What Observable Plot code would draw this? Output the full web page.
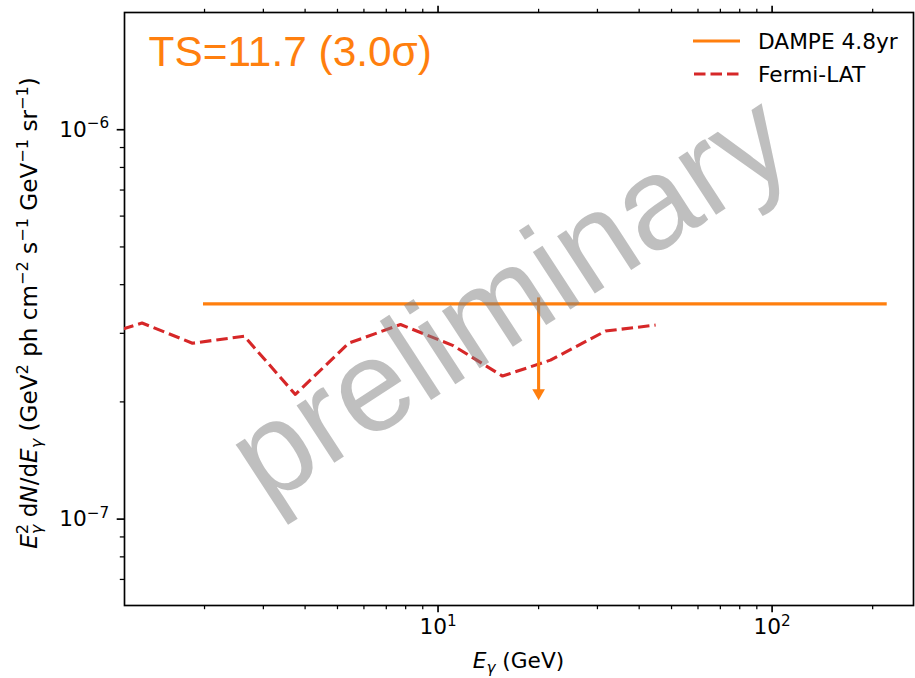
<!DOCTYPE html>
<html>
<head>
<meta charset="utf-8">
<script src="https://cdn.jsdelivr.net/npm/d3@7"></script>
<script src="https://cdn.jsdelivr.net/npm/@observablehq/plot@0.6"></script>
<style>
  html, body { margin: 0; padding: 0; background: white; }
  svg { display: block; }
</style>
</head>
<body>
<div id="chart"></div>
<script>
// Fermi-LAT spectrum (photon energy in GeV, E^2 dN/dE)
const fermiEnergy = [0.914, 1.30, 1.84, 2.63, 3.74, 5.40, 7.72, 11.1, 15.6, 21.7, 31.7, 44.8];
const fermiFlux   = [2.90e-7, 3.19e-7, 2.83e-7, 2.95e-7, 2.09e-7, 2.83e-7, 3.16e-7, 2.79e-7, 2.33e-7, 2.56e-7, 3.04e-7, 3.15e-7];

// DAMPE 4.8 yr flux level over its energy range, with the upper-limit arrow
const dampeEnergyRange = [2, 218];
const dampeFlux = 3.57e-7;
const dampeArrowEnergy = 20;
const dampeArrowTip = 2.02e-7;

// Axis ticks
const energyMajor = [10, 100];
const energyMinor = [2, 3, 4, 5, 6, 7, 8, 9, 20, 30, 40, 50, 60, 70, 80, 90, 200];
const fluxMajor = [1e-7, 1e-6];
const fluxMinor = [7e-8, 8e-8, 9e-8, 2e-7, 3e-7, 4e-7, 5e-7, 6e-7, 7e-7, 8e-7, 9e-7];

const ORANGE = "#ff7f0e";
const RED = "#d62728";
const FS = 21.7;
const SANS = "'DejaVu Sans', sans-serif";
const ARIAL = "'Liberation Sans', Arial, sans-serif";

const fermi = fermiEnergy.map((e, i) => ({e, f: fermiFlux[i]}));
const dampe = dampeEnergyRange.map(e => ({e, f: dampeFlux}));
const arrow = [{e: dampeArrowEnergy, f1: dampeFlux, f2: dampeArrowTip}];

const powerLabel = d => "10^" + String(Math.round(Math.log10(d))).replace("-", "\u2212");

const svg = Plot.plot({
  width: 915,
  height: 678,
  marginLeft: 124,
  marginRight: 2,
  marginTop: 12,
  marginBottom: 73,
  x: {type: "log", domain: [1.152, 265]},
  y: {type: "log", domain: [6e-8, 2e-6]},
  style: {fontFamily: SANS, fontSize: FS + "px", background: "white", color: "black"},
  marks: [
    // bottom axis
    Plot.axisX(energyMajor, {anchor: "bottom", tickSize: 7.3, tickPadding: 6, strokeWidth: 1.67, tickFormat: powerLabel, label: null, fontSize: FS}),
    Plot.axisX(energyMinor, {anchor: "bottom", tickSize: 4.2, strokeWidth: 1.25, tickFormat: () => "", label: null}),
    // top axis (ticks only)
    Plot.axisX(energyMajor, {anchor: "top", tickSize: 7.3, strokeWidth: 1.67, tickFormat: () => "", label: null}),
    Plot.axisX(energyMinor, {anchor: "top", tickSize: 4.2, strokeWidth: 1.25, tickFormat: () => "", label: null}),
    // left axis
    Plot.axisY(fluxMajor, {anchor: "left", tickSize: 7.3, tickPadding: 8, strokeWidth: 1.67, tickFormat: powerLabel, label: null, fontSize: FS}),
    Plot.axisY(fluxMinor, {anchor: "left", tickSize: 4.2, strokeWidth: 1.25, tickFormat: () => "", label: null}),
    Plot.frame({stroke: "black", strokeWidth: 1.67}),

    // Fermi-LAT
    Plot.line(fermi, {x: "e", y: "f", stroke: RED, strokeWidth: 3.1, strokeDasharray: "11.5,5", strokeLinecap: "butt", strokeLinejoin: "round", clip: true}),

    // DAMPE level and upper-limit arrow
    Plot.line(dampe, {x: "e", y: "f", stroke: ORANGE, strokeWidth: 3.1, strokeLinecap: "square"}),
    Plot.ruleX(arrow, {x: "e", y1: "f1", y2: "f2", stroke: ORANGE, strokeWidth: 3.1, dy: -6}),
    Plot.dot(arrow, {x: "e", y: "f2", symbol: "triangle", r: 4.7, rotate: 180, fill: ORANGE, stroke: "none", dy: -7.3}),

    // TS annotation
    Plot.text(["TS=11.7 (3.0\u03c3)"], {frameAnchor: "top-left", text: d => d, textAnchor: "start", lineAnchor: "top", dx: 24, dy: 23, fontSize: 42.4, fontFamily: ARIAL, fill: ORANGE}),

    // watermark
    Plot.text(["preliminary"], {frameAnchor: "middle", text: d => d, rotate: -33, fontSize: 130, dx: -9, dy: -10, fontFamily: ARIAL, fill: "gray", fillOpacity: 0.5})
  ]
});

document.getElementById("chart").appendChild(svg);

// Superscript exponents on tick labels ("10^-6" -> 10 with raised -6)
svg.querySelectorAll('g[aria-label$="tick label"] text').forEach(el => {
  const t = el.textContent;
  if (!t.includes("^")) return;
  const [base, exp] = t.split("^");
  el.textContent = "";
  const ns = "http://www.w3.org/2000/svg";
  const b = document.createElementNS(ns, "tspan");
  b.textContent = base;
  const s = document.createElementNS(ns, "tspan");
  s.textContent = exp;
  s.setAttribute("font-size", "0.7em");
  s.setAttribute("dy", "-0.55em");
  el.appendChild(b);
  el.appendChild(s);
});

const root = d3.select(svg);

// Rich text helper: parts are [text, kind, dx] with kind in {n, i, sup, sub, isub}
function richText(sel, parts, fs) {
  let level = 0;
  const SUP = fs * 0.38, SUB = fs * 0.24, small = (fs * 0.7).toFixed(2) + "px";
  parts.forEach(([txt, kind, extra]) => {
    const ts = sel.append("tspan").text(txt);
    let target = 0;
    if (kind === "sup") target = -SUP;
    else if (kind === "sub" || kind === "isub") target = SUB;
    if (target !== level) ts.attr("dy", target - level);
    level = target;
    if (kind === "sup" || kind === "sub" || kind === "isub") ts.attr("font-size", small);
    if (kind === "i" || kind === "isub") ts.attr("font-style", "italic");
    if (extra) ts.attr("dx", extra);
  });
}

// x-axis label
const xl = root.append("text")
  .attr("x", 518.5).attr("y", 668)
  .attr("text-anchor", "middle")
  .attr("font-size", FS).attr("fill", "black");
richText(xl, [["E", "i"], ["\u03b3", "isub"], [" (GeV)", "n"]], FS);

// y-axis label
const YFS = 23.1;
const yl = root.append("text")
  .attr("transform", "translate(36.5,313) rotate(-90)")
  .attr("text-anchor", "middle")
  .attr("font-size", YFS).attr("fill", "black");
richText(yl, [
  ["E", "i"], ["2", "sup"], ["\u03b3", "isub", -YFS * 0.7 * 0.636],
  [" d", "n"], ["N", "i"], ["/d", "n"], ["E", "i"], ["\u03b3", "isub"],
  [" (GeV", "n"], ["2", "sup"], [" ph cm", "n"], ["\u22122", "sup"],
  [" s", "n"], ["\u22121", "sup"], [" GeV", "n"], ["\u22121", "sup"],
  [" sr", "n"], ["\u22121", "sup"], [")", "n"]
], YFS);

// legend
const lg = root.append("g").attr("font-size", FS).attr("text-anchor", "start").attr("fill", "black");
lg.append("line").attr("x1", 693).attr("x2", 740).attr("y1", 41).attr("y2", 41)
  .attr("stroke", ORANGE).attr("stroke-width", 3.1);
lg.append("text").attr("x", 758).attr("y", 48.5).text("DAMPE 4.8yr");
lg.append("line").attr("x1", 694).attr("x2", 740).attr("y1", 74).attr("y2", 74)
  .attr("stroke", RED).attr("stroke-width", 3.1).attr("stroke-dasharray", "11.5,5");
lg.append("text").attr("x", 758).attr("y", 81.5).text("Fermi-LAT");
</script>
</body>
</html>
